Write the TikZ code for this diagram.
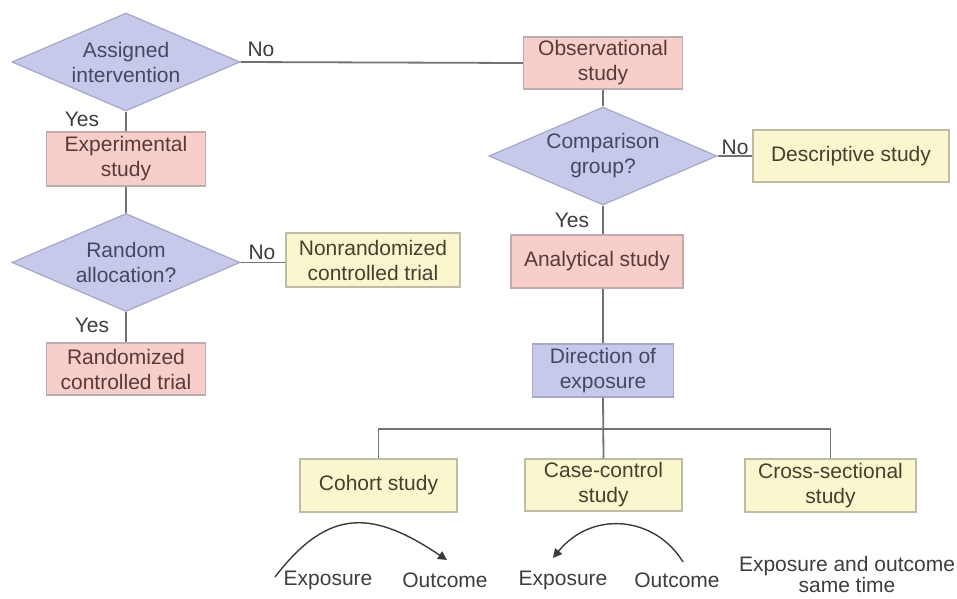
\documentclass[tikz,border=0pt]{standalone}
\usepackage{fontspec}
\setmainfont{Liberation Sans}
\usetikzlibrary{shapes.geometric,arrows.meta}
\definecolor{lavfill}{RGB}{198,201,234}
\definecolor{lavline}{RGB}{165,168,200}
\definecolor{pinkfill}{RGB}{247,206,201}
\definecolor{pinkline}{RGB}{190,172,172}
\definecolor{yelfill}{RGB}{250,247,206}
\definecolor{yelline}{RGB}{190,188,165}
\definecolor{linec}{RGB}{115,115,115}
\definecolor{txt}{RGB}{62,62,66}
\definecolor{txtlav}{RGB}{68,72,100}
\definecolor{txtpink}{RGB}{88,58,58}
\definecolor{txtyel}{RGB}{68,64,48}
\definecolor{curvec}{RGB}{60,60,60}
\begin{document}
\begin{tikzpicture}[x=1pt,y=-1pt,
  every node/.style={font=\fontsize{21}{25}\selectfont, text=txt},
  decision/.style={diamond, draw=lavline, fill=lavfill, line width=1.2pt, inner sep=0pt,
    aspect=2.3, minimum width=228pt, minimum height=98pt, align=center, text=txtlav},
  lavbox/.style={rectangle, draw=lavline, fill=lavfill, line width=1.2pt, inner sep=0pt,
    align=center, text=txtlav},
  pinkbox/.style={rectangle, draw=pinkline, fill=pinkfill, line width=1.2pt, inner sep=0pt,
    align=center, text=txtpink},
  yelbox/.style={rectangle, draw=yelline, fill=yelfill, line width=1.2pt, inner sep=0pt,
    align=center, text=txtyel},
  conn/.style={draw=linec, line width=1.8pt},
  curve/.style={draw=curvec, line width=1.4pt, -{Triangle[length=9pt,width=9pt]}},
  lbl/.style={inner sep=0pt}
]
\useasboundingbox (0,0) rectangle (957,598);
\fill[white] (0,0) rectangle (957,598);

% nodes
\node[decision] (assign) at (126,62) {Assigned\\intervention};
\node[pinkbox, minimum width=159pt, minimum height=52pt] (obs) at (603,63) {Observational\\study};
\node[pinkbox, minimum width=159pt, minimum height=54pt] (exp) at (126,159) {Experimental\\study};
\node[decision] (cmp) at (603,156) {Comparison\\group?};
\node[yelbox, minimum width=196pt, minimum height=52pt] (desc) at (851,156) {Descriptive study};
\node[pinkbox, minimum width=172pt, minimum height=53pt] (ana) at (597,261.5) {Analytical study};
\node[decision] (rand) at (126,262.5) {Random\\allocation?};
\node[yelbox, minimum width=174pt, minimum height=54pt] (nonr) at (373,260) {Nonrandomized\\controlled trial};
\node[pinkbox, minimum width=159pt, minimum height=52pt] (rct) at (126,369) {Randomized\\controlled trial};
\node[lavbox, minimum width=141pt, minimum height=53pt] (dir) at (603,370.5) {Direction of\\exposure};
\node[yelbox, minimum width=157pt, minimum height=53pt] (coh) at (378.5,485.5) {Cohort study};
\node[yelbox, minimum width=157pt, minimum height=52pt] (cc) at (603.5,485) {Case-control\\study};
\node[yelbox, minimum width=171pt, minimum height=53pt] (cro) at (830.5,485.5) {Cross-sectional\\study};

% labels
\node[lbl] (no1) at (261,49) {No};
\node[lbl] (yes1) at (82,119) {Yes};
\node[lbl] (no2) at (262,252) {No};
\node[lbl] (yes2) at (92,325) {Yes};
\node[lbl] (no3) at (735,147) {No};
\node[lbl] (yes3) at (572,220) {Yes};

% bottom texts
\node[lbl] (e1) at (328,580) {Exposure};
\node[lbl] (o1) at (445,580) {Outcome};
\node[lbl] (e2) at (563,580) {Exposure};
\node[lbl] (o2) at (677,580) {Outcome};
\node[lbl, align=center, font=\fontsize{21}{21}\selectfont] (eo) at (847,574) {Exposure and outcome\\same time};

% connectors
\draw[conn] (assign.east) -- (obs.west);
\draw[conn] (assign.south) -- (exp.north);
\draw[conn] (exp.south) -- (rand.north);
\draw[conn] (rand.east) -- (nonr.west |- rand.east);
\draw[conn] (rand.south) -- (rct.north);
\draw[conn] (obs.south) -- (cmp.north);
\draw[conn] (cmp.east) -- (desc.west);
\draw[conn] (cmp.south) -- (cmp.south |- ana.north);
\draw[conn] (ana.south -| dir.north) -- (dir.north);
\coordinate (bus) at (603,429);
\draw[conn] (dir.south) -- (cc.north);
\draw[conn] (coh.north) -- (coh.north |- bus) -- (cro.north |- bus) -- (cro.north);

% timing curves
\coordinate (c1s) at (275,577);
\coordinate (c1e) at (447,560);
\coordinate (c2s) at (683,562);
\coordinate (c2e) at (553,558);
\draw[curve] (c1s) .. controls (330,505) and (375,512) .. (c1e);
\draw[curve] (c2s) .. controls (655,516) and (592,510) .. (c2e);
\end{tikzpicture}
\end{document}
